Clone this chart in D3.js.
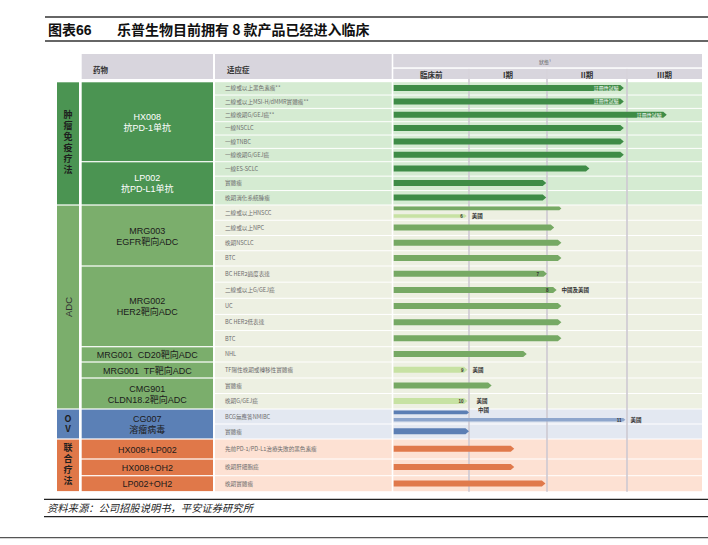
<!DOCTYPE html>
<html>
<head>
<meta charset="utf-8">
<script src="https://cdn.jsdelivr.net/npm/d3@7"></script>
<style>
  body { margin: 0; background: #fff; }
  svg { display: block; }
</style>
</head>
<body>
<div id="chart"></div>
<script>
'use strict';

// ---- data ----
var groupNames = ['肿瘤免疫疗法', 'ADC', 'OV', '联合疗法'];
var drugNames = [
    ['HX008', '抗PD-1单抗'], ['LP002', '抗PD-L1单抗'], ['MRG003', 'EGFR靶向ADC'],
    ['MRG002', 'HER2靶向ADC'], ['MRG001  CD20靶向ADC'], ['MRG001  TF靶向ADC'],
    ['CMG901', 'CLDN18.2靶向ADC'], ['CG007', '溶瘤病毒'],
    ['HX008+LP002'], ['HX008+OH2'], ['LP002+OH2']
];
var drugGroup = [0, 0, 1, 1, 1, 1, 1, 2, 3, 3, 3];
var indications = [
    '二線或以上黑色素瘤**', '二線或以上MSI-H/dMMR實體瘤**', '二線晚期G/GEJ癌**', '一線NSCLC',
    '一線TNBC', '一線晚期G/GEJ癌', '一線ES-SCLC', '實體瘤', '晚期消化系統腫瘤',
    '二線或以上HNSCC', '二線或以上NPC', '晚期NSCLC', 'BTC',
    'BC HER2過度表達', '二線或以上G/GEJ癌', 'UC', 'BC HER2低表達', 'BTC',
    'NHL', 'TF陽性晚期或轉移性實體瘤', '實體瘤', '晚期G/GEJ癌',
    'BCG無應答NMIBC', '實體瘤', '先前PD-1/PD-L1治療失敗的黑色素瘤', '晚期肝細胞癌', '晚期實體瘤'
];
var indicationDrug = [0, 0, 0, 0, 0, 0, 1, 1, 1, 2, 2, 2, 2, 3, 3, 3, 3, 3, 4, 5, 6, 6, 7, 7, 8, 9, 10];
var stageLabels = ['臨床前', 'I期', 'II期', 'III期'];
// end = stage reached (0 = start, 1 = end of 臨床前, 2 = end of I期 ...)
var bars = [
    {row: 0, end: 2.96, tag: '註冊性試驗'},
    {row: 1, end: 2.96, tag: '註冊性試驗'},
    {row: 2, end: 3.53, tag: '註冊性試驗'},
    {row: 3, end: 2.96},
    {row: 4, end: 2.96},
    {row: 5, end: 2.96},
    {row: 6, end: 2.53},
    {row: 7, end: 1.99},
    {row: 8, end: 1.99},
    {row: 9, end: 2.18, pos: 'top'},
    {row: 9, end: 0.97, pos: 'bot', tone: 'light', note: '6', label: '美國'},
    {row: 10, end: 2.09},
    {row: 11, end: 2.18},
    {row: 12, end: 2.18},
    {row: 13, end: 2.0, note: '7'},
    {row: 14, end: 2.12, note: '8', label: '中國及美國'},
    {row: 15, end: 2.18},
    {row: 16, end: 2.18},
    {row: 17, end: 2.18},
    {row: 18, end: 1.74},
    {row: 19, end: 0.98, tone: 'light', note: '9', label: '美國'},
    {row: 20, end: 1.29},
    {row: 21, end: 0.98, tone: 'light', note: '10', label: '美國'},
    {row: 22, end: 1.0, pos: 'top', label: '中國'},
    {row: 22, end: 2.98, pos: 'bot', tone: 'light', note: '11', label: '美國'},
    {row: 23, end: 1.0},
    {row: 24, end: 1.58},
    {row: 25, end: 1.58},
    {row: 26, end: 1.98}
];

// ---- layout ----
var W = 708, H = 545;
var blockEdges = [81.7, 161.7, 205, 266, 346.7, 362, 378, 409, 439, 459, 475.7, 491.7];
var colGroup = [57, 79], colDrug = [81.7, 213], colInd = [215, 391.7], colStage = [393.3, 702];
var palette = [
    {cell: '#4b9452', drugText: '#ffffff', bg: '#d5ebd2', bar: '#3f8c47', light: '#3f8c47'},
    {cell: '#7bae6c', drugText: '#1b1b1b', bg: '#edf0e2', bar: '#76a964', light: '#c7e2a3'},
    {cell: '#5b80b6', drugText: '#1b1b1b', bg: '#e3e8f1', bar: '#5c7fb4', light: '#8ea6cc'},
    {cell: '#e07849', drugText: '#1b1b1b', bg: '#fde1d3', bar: '#e0794b', light: '#e0794b'}
];
var CJK = '"Noto Sans CJK SC", "Noto Sans", sans-serif';
var CJKTC = '"Noto Sans CJK TC", "Noto Sans", sans-serif';
var LAT = '"Liberation Sans", Arial, "Noto Sans CJK SC", sans-serif';

var x = d3.scaleLinear().domain([0, 1, 2, 3, 4]).range([393.3, 469, 547, 627, 702]);

// row positions: rows split evenly inside each drug block
var rows = indications.map(function (name, i) {
    var d = indicationDrug[i];
    var inBlock = indicationDrug.filter(function (v) { return v === d; }).length;
    var k = indicationDrug.slice(0, i).filter(function (v) { return v === d; }).length;
    var h = (blockEdges[d + 1] - blockEdges[d]) / inBlock;
    return {name: name, drug: d, group: drugGroup[d], y: blockEdges[d] + k * h, h: h};
});

var svg = d3.select('#chart').append('svg').attr('width', W).attr('height', H);

// ---- title ----
svg.append('line').attr('x1', 45).attr('x2', W).attr('y1', 17).attr('y2', 17)
    .attr('stroke', '#333').attr('stroke-width', 1.5);
svg.append('line').attr('x1', 45).attr('x2', W).attr('y1', 41).attr('y2', 41)
    .attr('stroke', '#333').attr('stroke-width', 1.5);
svg.append('text').attr('x', 48).attr('y', 35).attr('font-family', LAT)
    .attr('font-size', 14).attr('font-weight', 'bold').attr('fill', '#111')
    .text('图表66');
svg.append('text').attr('x', 117).attr('y', 35).attr('font-family', CJK)
    .attr('font-size', 14).attr('font-weight', 'bold').attr('fill', '#111')
    .text('乐普生物目前拥有 8 款产品已经进入临床');

// ---- header ----
var head = svg.append('g');
var headFill = '#d8d5dd';
head.append('rect').attr('x', colDrug[0]).attr('y', 54).attr('width', colDrug[1] - colDrug[0]).attr('height', 25).attr('fill', headFill);
head.append('rect').attr('x', colInd[0]).attr('y', 54).attr('width', colInd[1] - colInd[0]).attr('height', 25).attr('fill', headFill);
head.append('rect').attr('x', colStage[0]).attr('y', 54).attr('width', colStage[1] - colStage[0]).attr('height', 13.3).attr('fill', headFill);
stageLabels.forEach(function (s, i) {
    var x0 = x(i) + (i ? 1 : 0), x1 = x(i + 1) - (i < 3 ? 1 : 0);
    head.append('rect').attr('x', x0).attr('y', 68.8).attr('width', x1 - x0).attr('height', 10.2).attr('fill', headFill);
    head.append('text').attr('x', (x(i) + x(i + 1)) / 2).attr('y', 77.5).attr('text-anchor', 'middle')
        .attr('font-family', CJKTC).attr('font-size', 7.5).attr('font-weight', 'bold').attr('fill', '#333').text(s);
});
head.append('text').attr('x', 93).attr('y', 73).attr('font-family', CJK).attr('font-size', 7.5)
    .attr('font-weight', 'bold').attr('fill', '#333').text('药物');
head.append('text').attr('x', 227).attr('y', 73).attr('font-family', CJK).attr('font-size', 7.5)
    .attr('font-weight', 'bold').attr('fill', '#333').text('适应症');
head.append('text').attr('x', 545).attr('y', 64).attr('text-anchor', 'middle').attr('font-family', CJKTC)
    .attr('font-size', 5).attr('fill', '#555').text('狀態¹');

// ---- row backgrounds ----
var body = svg.append('g');
body.selectAll('rect.ind').data(rows).enter().append('rect')
    .attr('x', colInd[0]).attr('y', function (d) { return d.y + 0.5; })
    .attr('width', colInd[1] - colInd[0]).attr('height', function (d) { return d.h - 1; })
    .attr('fill', function (d) { return palette[d.group].bg; });
body.selectAll('rect.stage').data(rows).enter().append('rect')
    .attr('x', colStage[0]).attr('y', function (d) { return d.y + 0.5; })
    .attr('width', colStage[1] - colStage[0]).attr('height', function (d) { return d.h - 1; })
    .attr('fill', function (d) { return palette[d.group].bg; });

// stage dividers
[1, 2, 3].forEach(function (i) {
    body.append('line').attr('x1', x(i)).attr('x2', x(i)).attr('y1', 68.8).attr('y2', 491.7)
        .attr('stroke', '#cdc9d2').attr('stroke-width', 1.6);
});

// indication text
body.selectAll('text.ind').data(rows).enter().append('text')
    .attr('x', 225).attr('y', function (d) { return d.y + d.h / 2 + 2; })
    .attr('font-family', CJKTC).attr('font-size', 5.6).attr('fill', '#6d6d6d')
    .text(function (d) { return d.name; });

// drug cells
drugNames.forEach(function (lines, d) {
    var y0 = blockEdges[d], y1 = blockEdges[d + 1], p = palette[drugGroup[d]];
    body.append('rect').attr('x', colDrug[0]).attr('y', y0 + 0.6).attr('width', colDrug[1] - colDrug[0])
        .attr('height', y1 - y0 - 1.2).attr('fill', p.cell);
    var cy = (y0 + y1) / 2, lh = 11;
    lines.forEach(function (t, j) {
        body.append('text').attr('x', (colDrug[0] + colDrug[1]) / 2)
            .attr('y', cy + (j - (lines.length - 1) / 2) * lh + 3.5)
            .attr('text-anchor', 'middle').attr('font-family', LAT).attr('font-size', 9)
            .attr('fill', p.drugText).style('white-space', 'pre').text(t);
    });
});

// group cells
groupNames.forEach(function (g, gi) {
    var ds = drugGroup.map(function (v, i) { return v === gi ? i : -1; }).filter(function (i) { return i >= 0; });
    var y0 = blockEdges[ds[0]], y1 = blockEdges[ds[ds.length - 1] + 1];
    body.append('rect').attr('x', colGroup[0]).attr('y', y0 + 0.6).attr('width', colGroup[1] - colGroup[0])
        .attr('height', y1 - y0 - 1.2).attr('fill', palette[gi].cell);
    var cx = (colGroup[0] + colGroup[1]) / 2, cy = (y0 + y1) / 2;
    if (g === 'ADC') {
        body.append('text').attr('transform', 'translate(' + (cx + 3.5) + ',' + cy + ') rotate(-90)')
            .attr('text-anchor', 'middle').attr('font-family', LAT).attr('font-size', 9.5)
            .attr('fill', '#333').text(g);
    } else {
        // one vertical text per group, characters stacked upright
        body.append('text').attr('x', cx).attr('y', cy)
            .attr('text-anchor', 'middle').attr('font-family', CJK).attr('font-size', 9)
            .attr('font-weight', 'bold').attr('fill', '#1e1e1e')
            .style('writing-mode', 'vertical-rl').style('text-orientation', 'upright')
            .style('letter-spacing', (g.length > 2 ? 2 : 1) + 'px')
            .text(g);
    }
});

// ---- bars ----
function arrowPath(x0, x1, yc, h) {
    var t = Math.min(h * 0.6, 3.5);
    return 'M' + x0 + ',' + (yc - h / 2) + 'H' + (x1 - t) + 'L' + x1 + ',' + yc +
        'L' + (x1 - t) + ',' + (yc + h / 2) + 'H' + x0 + 'Z';
}
function barY(b) {
    var r = rows[b.row];
    if (b.pos === 'top') return r.y + 3.4;
    if (b.pos === 'bot') return r.y + r.h - 4.3;
    return r.y + r.h / 2 - 0.3;
}
function barH(b) { return b.pos ? 3.6 : 6; }

var barG = svg.append('g');
barG.selectAll('path').data(bars).enter().append('path')
    .attr('d', function (b) { return arrowPath(x(0) + 0.4, x(b.end), barY(b), barH(b)); })
    .attr('fill', function (b) {
        var p = palette[rows[b.row].group];
        return b.tone === 'light' ? p.light : p.bar;
    });
barG.selectAll('text.tag').data(bars.filter(function (b) { return b.tag; })).enter().append('text')
    .attr('x', function (b) { return x(b.end) - 5; }).attr('y', function (b) { return barY(b) + 1.8; })
    .attr('text-anchor', 'end').attr('font-family', CJKTC).attr('font-size', 5)
    .attr('fill', '#ffffff').text(function (b) { return b.tag; });
barG.selectAll('text.note').data(bars.filter(function (b) { return b.note; })).enter().append('text')
    .attr('x', function (b) { return x(b.end) - (b.pos || b.tone ? 4 : 8); })
    .attr('y', function (b) { return barY(b) + 1.8; })
    .attr('text-anchor', 'end').attr('font-family', LAT).attr('font-size', 4.5).attr('font-weight', 'bold')
    .attr('fill', '#333').text(function (b) { return b.note; });
barG.selectAll('text.label').data(bars.filter(function (b) { return b.label; })).enter().append('text')
    .attr('x', function (b) { return x(b.end) + (b.note === '10' || b.pos === 'top' ? 9 : 5); })
    .attr('y', function (b) { return barY(b) + (b.pos === 'top' ? 0 : 2); })
    .attr('font-family', CJKTC).attr('font-size', 5.5).attr('font-weight', 'bold')
    .attr('fill', '#333').text(function (b) { return b.label; });

// ---- source ----
svg.append('line').attr('x1', 44).attr('x2', W).attr('y1', 499.3).attr('y2', 499.3)
    .attr('stroke', '#222').attr('stroke-width', 1.3);
svg.append('line').attr('x1', 44).attr('x2', W).attr('y1', 516.7).attr('y2', 516.7)
    .attr('stroke', '#222').attr('stroke-width', 1.3);
svg.append('text').attr('x', 47).attr('y', 512).attr('font-family', CJK).attr('font-size', 10.3)
    .attr('font-style', 'italic').attr('fill', '#222').text('资料来源：公司招股说明书，平安证券研究所');
svg.append('line').attr('x1', 0).attr('x2', W).attr('y1', 537.7).attr('y2', 537.7)
    .attr('stroke', '#555').attr('stroke-width', 1.2);
</script>
</body>
</html>
